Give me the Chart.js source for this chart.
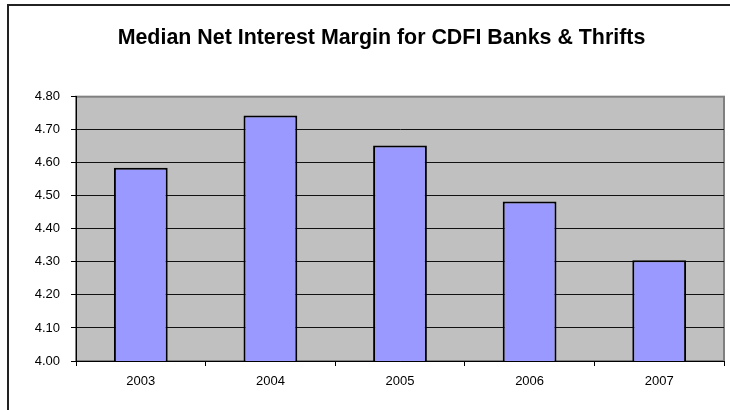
<!DOCTYPE html>
<html>
<head>
<meta charset="utf-8">
<script src="https://cdn.jsdelivr.net/npm/chart.js@4/dist/chart.umd.min.js"></script>
<style>
  html, body { margin: 0; padding: 0; background: #fff; overflow: hidden; }
  #frame {
    position: absolute; left: 7px; top: 4px;
    width: 800px; height: 500px;
    border: 2px solid #222; box-sizing: border-box;
  }
  #wrap { position: absolute; left: 0; top: 0; width: 763px; height: 410px; }
</style>
</head>
<body>
<div id="frame"></div>
<div id="wrap"><canvas id="nimChart" width="763" height="410"></canvas></div>
<script>
const years = ['2003', '2004', '2005', '2006', '2007'];
const medianNim = [4.585, 4.743, 4.652, 4.483, 4.305];
const yMin = 4.0;
const yMax = 4.8;
const yStep = 0.1;

const axisFont = { family: '"Liberation Sans", Arial, sans-serif', size: 13 };

// grey plot area with a grey frame, painted before grid and bars
const plotBackground = {
  id: 'plotBackground',
  beforeDraw(chart) {
    const { ctx, chartArea: a } = chart;
    ctx.save();
    ctx.fillStyle = '#C0C0C0';
    ctx.fillRect(a.left, a.top, a.right - a.left, a.bottom - a.top);
    ctx.strokeStyle = '#808080';
    ctx.lineWidth = 2;
    ctx.strokeRect(a.left, a.top, a.right - a.left, a.bottom - a.top);
    ctx.restore();
  }
};

new Chart(document.getElementById('nimChart').getContext('2d'), {
  type: 'bar',
  data: {
    labels: years,
    datasets: [{
      data: medianNim,
      backgroundColor: '#9999FF',
      borderColor: '#000',
      borderWidth: 2,
      borderSkipped: false,
      categoryPercentage: 1.0,
      barPercentage: 0.415
    }]
  },
  options: {
    responsive: false,
    animation: false,
    layout: { padding: 0 },
    plugins: {
      legend: { display: false },
      tooltip: { enabled: false },
      title: {
        display: true,
        text: 'Median Net Interest Margin for CDFI Banks & Thrifts',
        color: '#000',
        font: { family: '"Liberation Sans", Arial, sans-serif', size: 21.4, weight: 'bold' },
        padding: { top: 25, bottom: 46 }
      }
    },
    scales: {
      x: {
        grid: { drawOnChartArea: false, drawTicks: true, tickLength: 5, tickColor: '#000' },
        border: { display: true, color: '#000', width: 1 },
        ticks: { color: '#000', padding: 8, font: axisFont },
        afterFit(scale) { scale.height = 49; }
      },
      y: {
        min: yMin,
        max: yMax,
        grid: {
          color: (c) => (c.tick && c.tick.value > yMax - 0.01 ? '#808080' : '#111'),
          lineWidth: 1,
          tickLength: 5,
          tickColor: '#000'
        },
        border: { display: true, color: '#000', width: 1 },
        ticks: {
          stepSize: yStep,
          color: '#000',
          padding: 11,
          font: axisFont,
          callback: (v) => Number(v).toFixed(2)
        },
        afterFit(scale) { scale.width = 76; }
      },
      // empty strip on the right so the plot ends before the frame edge
      spacer: {
        type: 'linear',
        position: 'right',
        grid: { drawOnChartArea: false, drawTicks: false },
        border: { display: false },
        ticks: { display: false },
        afterFit(scale) { scale.width = 39; }
      }
    }
  },
  plugins: [plotBackground]
});
</script>
</body>
</html>
